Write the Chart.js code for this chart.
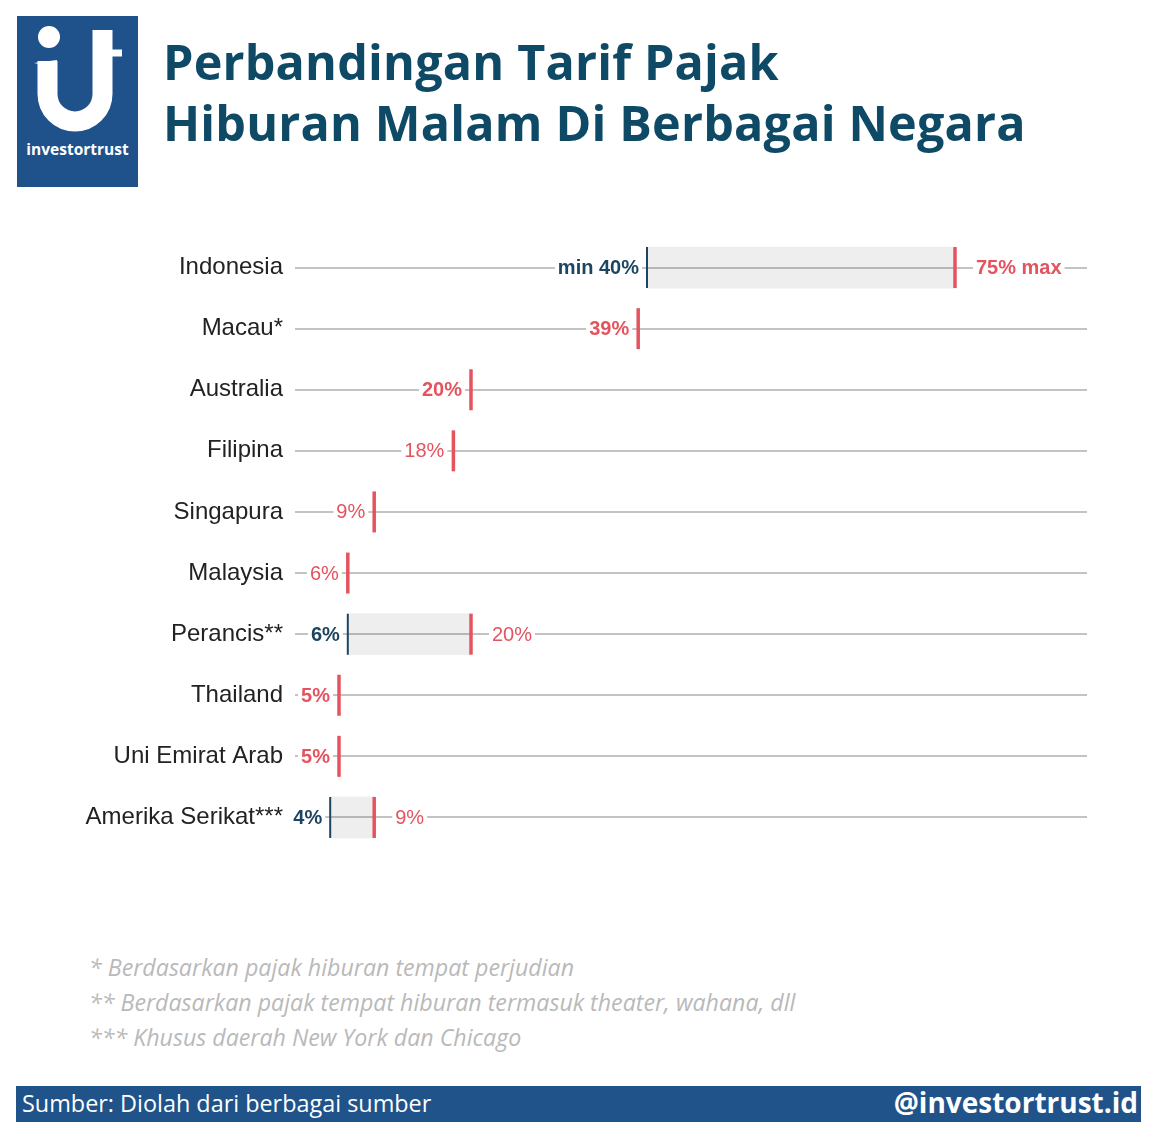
<!DOCTYPE html>
<html>
<head>
<meta charset="utf-8">
<script src="https://cdn.jsdelivr.net/npm/chart.js@4.4.0/dist/chart.umd.min.js"></script>
<style>
  body { margin: 0; width: 1158px; height: 1146px; background: #fff; position: relative; overflow: hidden; font-family: "Open Sans", sans-serif; }
  #logo { position: absolute; left: 17px; top: 16px; width: 121px; height: 171px; background: #1f528a; }
  #title { position: absolute; left: 163px; top: 31px; color: #0e4a65; font-weight: 700; font-size: 48.5px; line-height: 61px; letter-spacing: 0.2px; }
  #chartBox { position: absolute; left: 0; top: 207px; width: 1158px; height: 671px; }
  #notes { position: absolute; left: 89px; top: 950px; color: #b9b9b9; font-style: italic; font-size: 23.2px; line-height: 35px; }
  #footer { position: absolute; left: 16px; top: 1086px; width: 1125px; height: 36px; background: #1f538a; color: #fff; }
  #footer .src { position: absolute; left: 6px; top: 2px; font-size: 23.4px; line-height: 31px; }
  #footer .tag { position: absolute; right: 3px; top: -1px; font-size: 28px; font-weight: 700; line-height: 35px; }
</style>
</head>
<body>
<div id="logo">
  <svg width="121" height="171" viewBox="0 0 121 171">
    <circle cx="32" cy="21" r="11" fill="#fff"/>
    <path d="M30.5 45 L30.5 78 A27.5 27.5 0 0 0 85.5 78 L85.5 14" stroke="#fff" stroke-width="20" fill="none"/>
    <path d="M17 47 L40 44 L40 52 Z" fill="#fff"/>
    <path d="M78 37 L105 37" stroke="#fff" stroke-width="7"/>
    <text x="60.5" y="139" text-anchor="middle" fill="#fff" font-family="Open Sans" font-weight="700" font-size="15.5">investortrust</text>
  </svg>
</div>
<div id="title">Perbandingan Tarif Pajak<br>Hiburan Malam Di Berbagai Negara</div>
<div id="chartBox"><canvas id="myChart"></canvas></div>
<div id="notes">
  <div>* Berdasarkan pajak hiburan tempat perjudian</div>
  <div>** Berdasarkan pajak tempat hiburan termasuk theater, wahana, dll</div>
  <div>*** Khusus daerah New York dan Chicago</div>
</div>
<div id="footer">
  <div class="src">Sumber: Diolah dari berbagai sumber</div>
  <div class="tag">@investortrust.id</div>
</div>
<script>
var countries = [
  "Indonesia",
  "Macau*",
  "Australia",
  "Filipina",
  "Singapura",
  "Malaysia",
  "Perancis**",
  "Thailand",
  "Uni Emirat Arab",
  "Amerika Serikat***",
];
// lower bound of the tax range (only where a range is given)
var minRate = [40, null, null, null, null, null, 6, null, null, 4];
// upper bound / single rate
var maxRate = [75, 39, 20, 18, 9, 6, 20, 5, 5, 9];
// which value labels are written in bold
var maxBold = [true, true, true, false, false, false, false, true, true, false];

var red = "#e5535f";
var navy = "#1b4560";

var rangeData = countries.map(function (c, i) {
  return minRate[i] == null ? null : [minRate[i], maxRate[i]];
});
var minPoints = [];
var maxPoints = [];
countries.forEach(function (c, i) {
  if (minRate[i] != null) minPoints.push({ x: minRate[i], y: c });
  maxPoints.push({ x: maxRate[i], y: c });
});

// value labels with a white patch so the row line breaks around them
var valueLabels = {
  id: "valueLabels",
  afterDatasetsDraw: function (chart) {
    var c = chart.ctx;
    var xs = chart.scales.x;
    var ys = chart.scales.y;
    c.save();
    c.textBaseline = "middle";
    function put(text, x, y, align, color, bold) {
      c.font = (bold ? "bold " : "") + "20px 'Liberation Sans', Arial, sans-serif";
      var w = c.measureText(text).width;
      var left = align === "right" ? x - w : x;
      c.fillStyle = "#fff";
      c.fillRect(left - 3, y - 4, w + 6, 8);
      c.fillStyle = color;
      c.textAlign = align;
      c.fillText(text, x, y + 1);
    }
    countries.forEach(function (name, i) {
      var y = ys.getPixelForValue(i);
      var xMax = xs.getPixelForValue(maxRate[i]);
      if (minRate[i] != null) {
        var xMin = xs.getPixelForValue(minRate[i]);
        put((i === 0 ? "min " : "") + minRate[i] + "%", xMin - 8, y, "right", navy, true);
        put(maxRate[i] + "%" + (i === 0 ? " max" : ""), xMax + 21, y, "left", red, maxBold[i]);
      } else {
        put(maxRate[i] + "%", xMax - 9, y, "right", red, maxBold[i]);
      }
    });
    c.restore();
  },
};

var ctx = document.getElementById("myChart").getContext("2d");
var myChart = new Chart(ctx, {
  type: "bar",
  data: {
    labels: countries,
    datasets: [
      {
        label: "range",
        data: rangeData,
        backgroundColor: "rgba(0, 0, 0, 0.065)",
        borderWidth: 0,
        barThickness: 41,
        order: 3,
      },
      {
        type: "line",
        label: "min",
        data: minPoints,
        showLine: false,
        pointStyle: "line",
        rotation: 90,
        radius: 20.5,
        borderColor: navy,
        borderWidth: 2,
        order: 2,
      },
      {
        type: "line",
        label: "max",
        data: maxPoints,
        showLine: false,
        pointStyle: "line",
        rotation: 90,
        radius: 20.5,
        borderColor: red,
        borderWidth: 3.5,
        order: 1,
      },
    ],
  },
  options: {
    indexAxis: "y",
    responsive: true,
    maintainAspectRatio: false,
    animation: false,
    events: [],
    layout: { padding: { left: 0, right: 71, top: 30, bottom: 30 } },
    plugins: { legend: { display: false }, tooltip: { enabled: false } },
    scales: {
      x: {
        min: 0,
        max: 90,
        display: false,
      },
      y: {
        afterFit: function (scale) {
          scale.width = 295;
        },
        border: { display: false },
        grid: { offset: false, color: "#c3c3c3", lineWidth: 2, drawTicks: false },
        ticks: {
          padding: 12,
          color: "#222",
          font: { family: "'Liberation Sans', Arial, sans-serif", size: 24 },
        },
      },
    },
  },
  plugins: [valueLabels],
});
</script>
</body>
</html>
